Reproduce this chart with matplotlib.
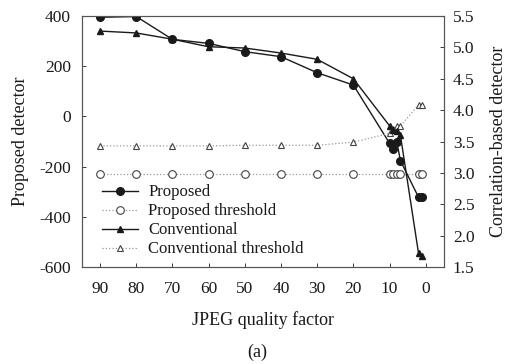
import matplotlib
matplotlib.use("Agg")
import matplotlib.pyplot as plt
from matplotlib.lines import Line2D

plt.rcParams['font.family'] = ['Liberation Serif', 'DejaVu Serif']
plt.rcParams['axes.unicode_minus'] = False

quality = [90, 80, 70, 60, 50, 40, 30, 20, 10, 9, 8, 7, 2, 1]
proposed = [395, 398, 307, 291, 258, 238, 174, 125, -107, -131, -101, -176, -322, -322]
proposed_thr = [-228] * 14
conventional = [5.26, 5.23, 5.13, 5.01, 4.99, 4.91, 4.81, 4.50, 3.75, 3.68, 3.66, 3.60, 1.72, 1.68]
conventional_thr = [3.43, 3.43, 3.43, 3.43, 3.44, 3.44, 3.44, 3.49, 3.63, 3.70, 3.74, 3.75, 4.08, 4.08]

left_ticks = [-600, -400, -200, 0, 200, 400]
right_ticks = [1.5, 2.0, 2.5, 3.0, 3.5, 4.0, 4.5, 5.0, 5.5]
x_ticks = [90, 80, 70, 60, 50, 40, 30, 20, 10, 0]

txt = '#1a1a1a'
fig = plt.figure(figsize=(5.09, 3.64), dpi=100)
ax = fig.add_axes([0.161, 0.2665, 0.711, 0.6895])
ax2 = ax.twinx()

ax.plot(quality, proposed, '-', color='#1a1a1a', lw=1.0, marker='o', ms=5.5, mfc='#1a1a1a', mec='#1a1a1a', zorder=3)
ax.plot(quality, proposed_thr, ':', color='#999999', lw=0.9, marker='o', ms=5.5, mfc='white', mec='#444444', mew=0.8, zorder=2)
ax2.plot(quality, conventional, '-', color='#1a1a1a', lw=1.0, marker='^', ms=5, mfc='#1a1a1a', mec='#1a1a1a', zorder=3)
ax2.plot(quality, conventional_thr, ':', color='#999999', lw=0.9, marker='^', ms=5, mfc='white', mec='#444444', mew=0.8, zorder=2)

ax.set_xlim(95, -5)
ax.set_ylim(-600, 400)
ax2.set_ylim(1.5, 5.5)
ax.set_xticks(x_ticks)
ax.set_yticks(left_ticks)
ax2.set_yticks(right_ticks)
ax2.set_yticklabels([f"{v:.1f}" for v in right_ticks])

for a in (ax, ax2):
    a.tick_params(direction='in', length=3, width=0.6, labelsize=12.5, colors=txt, pad=8)
    for s in a.spines.values():
        s.set_color('#555555')
        s.set_linewidth(0.8)
ax.tick_params(axis='x', pad=10)
ax2.tick_params(axis='y', pad=6.5)

ax.set_ylabel('Proposed detector', fontsize=13, color=txt, labelpad=7)
ax2.set_ylabel('Correlation-based detector', fontsize=13, color=txt, labelpad=11)
ax.set_xlabel('JPEG quality factor', fontsize=13, color=txt, labelpad=10)
fig.text(0.505, 0.033, '(a)', ha='center', va='center', fontsize=13, color=txt)

handles = [
    Line2D([], [], color='#1a1a1a', lw=1.0, marker='o', ms=5.5, mfc='#1a1a1a'),
    Line2D([], [], color='#999999', lw=0.9, ls=':', marker='o', ms=5.5, mfc='white', mec='#444444', mew=0.8),
    Line2D([], [], color='#1a1a1a', lw=1.0, marker='^', ms=5, mfc='#1a1a1a'),
    Line2D([], [], color='#999999', lw=0.9, ls=':', marker='^', ms=5, mfc='white', mec='#444444', mew=0.8),
]
labels = ['Proposed', 'Proposed threshold', 'Conventional', 'Conventional threshold']
leg = ax2.legend(handles, labels, loc='center left', bbox_to_anchor=(0.2, 0.393),
                 bbox_transform=fig.transFigure, frameon=False, fontsize=12,
                 handlelength=2.2, handletextpad=0.6, labelspacing=0.18,
                 borderpad=0, borderaxespad=0, numpoints=1)
for t in leg.get_texts():
    t.set_color(txt)

fig.savefig('out.png', dpi=100)
